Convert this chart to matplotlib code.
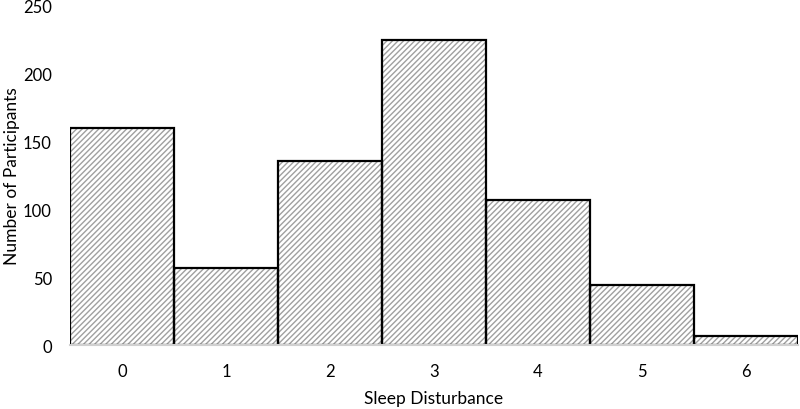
import matplotlib.pyplot as plt

# Sleep disturbance score distribution
scores = [0, 1, 2, 3, 4, 5, 6]
counts = [160, 57, 136, 225, 107, 44, 7]
tick_labels = ['0', '1', '2', '3', '4', '5', '6']

plt.rcParams['font.family'] = ['Lato', 'DejaVu Sans']
plt.rcParams['hatch.linewidth'] = 1.0

fig = plt.figure(figsize=(8, 4.1), dpi=100)
ax = fig.add_axes([0.0875, 0.156, 0.91, 0.827])

# hatched fill in gray, then black outlines on top
ax.bar(scores, counts, width=1.0, color='white', edgecolor='#a0a0a0',
       hatch='//////', linewidth=0)
ax.bar(scores, counts, width=1.0, fill=False, edgecolor='black', linewidth=1.6)

ax.set_xlim(-0.5, 6.5)
ax.set_ylim(0, 250)
ax.set_yticks(range(0, 251, 50))
ax.set_xticks(scores)
ax.set_xticklabels(tick_labels)

for s in ['top', 'right', 'left']:
    ax.spines[s].set_visible(False)
ax.spines['bottom'].set_color('#d0d0d0')
ax.spines['bottom'].set_linewidth(1.5)
ax.tick_params(axis='both', length=0, labelsize=12, colors='black')
ax.tick_params(axis='y', pad=13)
ax.tick_params(axis='x', pad=13)

ax.set_xlabel('Sleep Disturbance', fontsize=12.5, labelpad=8)
ax.set_ylabel('Number of Participants', fontsize=12.5, labelpad=2)

fig.savefig('out.png', dpi=100)
